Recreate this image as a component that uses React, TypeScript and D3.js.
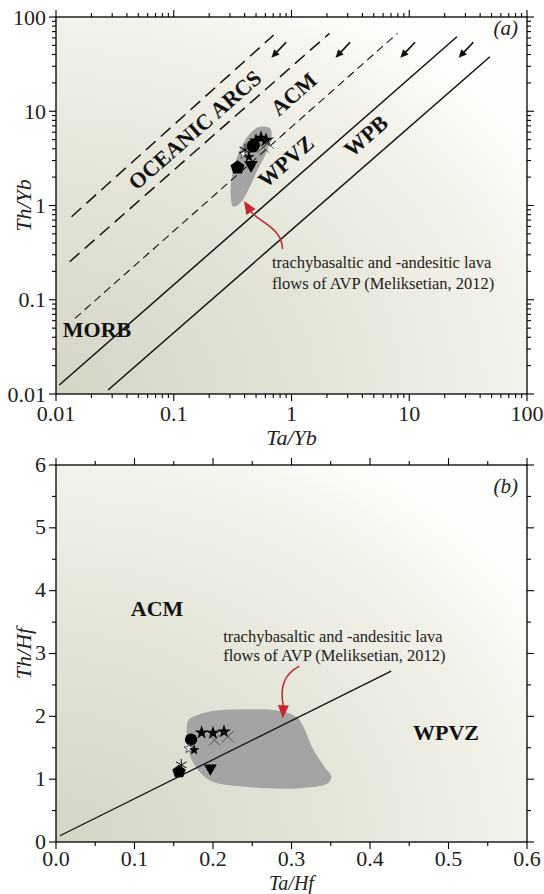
import React from 'react';
import * as d3 from 'd3';

const FONT = "'Liberation Serif', 'Times New Roman', Times, serif";
const W = 544;
const H = 894;

// ---- Panel (a): Th/Yb vs Ta/Yb discriminant boundaries (log–log) ----
const boundaryKind = ['dashLong', 'dashLong', 'dashShort', 'solid', 'solid'];
const boundaryStartTaYb = [0.01355, 0.01307, 0.0145, 0.01067, 0.0277];
const boundaryStartThYb = [0.76, 0.2533, 0.0635, 0.01246, 0.01103];
const boundaryEndTaYb = [0.706, 2.1, 7.94, 25.4, 48.4];
const boundaryEndThYb = [64.4, 67.1, 67.1, 61.8, 37.9];

// small direction arrows near the top of the boundaries
const arrowTailTaYb = [0.9, 3.15, 11.2, 35];
const arrowTailThYb = 54;
const arrowHeadThYb = 37;
const arrowHeadRatio = 0.75;

// field names in (a)
const fieldNamesA = ['OCEANIC ARCS', 'ACM', 'WPVZ', 'WPB'];
const fieldNameTaYb = [0.1515, 1.046, 0.898, 4.29];
const fieldNameThYb = [6.32, 15.2, 2.92, 5.46];
const morbTaYb = 0.01142;
const morbThYb = 0.0405;

// AVP lava-flow field, panel (a)
const fieldATaYb = [0.54, 0.657, 0.679, 0.616, 0.506, 0.43, 0.365, 0.32, 0.3045, 0.31, 0.3425, 0.3897, 0.459];
const fieldAThYb = [6.85, 6.59, 5.6, 3.72, 2.28, 1.461, 1.055, 0.971, 1.292, 1.943, 3.17, 4.57, 6.07];

// AVP lava-flow field, panel (b)
const fieldBTaHf = [0.1685, 0.1664, 0.173, 0.195, 0.2395, 0.3107, 0.3462, 0.3507, 0.3418, 0.326, 0.3152, 0.3062, 0.284, 0.2395, 0.195, 0.175];
const fieldBThHf = [1.942, 1.73, 1.305, 0.987, 0.88, 0.855, 0.934, 1.039, 1.198, 1.517, 1.835, 1.994, 2.09, 2.112, 2.074, 1.994];

// ACM / WPVZ divide, panel (b)
const divideTaHf = [0.005, 0.427];
const divideThHf = [0.1, 2.72];

// samples
const sampleSymbol = ['star', 'star', 'star', 'cross', 'cross', 'circle', 'openStar', 'smallStar', 'asterisk', 'pentagon', 'triangle'];
const sampleTaYb = [0.4995, 0.551, 0.607, 0.575, 0.631, 0.471, 0.395, 0.4355, 0.403, 0.348, 0.453];
const sampleThYb = [4.84, 5.2, 4.95, 4.18, 4.6, 4.27, 3.52, 3.27, 3.88, 2.53, 2.69];
const sampleTaHf = [0.1855, 0.2, 0.214, 0.202, 0.219, 0.172, 0.1694, 0.176, 0.1596, 0.1567, 0.1966];
const sampleThHf = [1.74, 1.735, 1.756, 1.623, 1.679, 1.631, 1.488, 1.464, 1.226, 1.119, 1.173];

// tick labels
const logTickLabels = ['0.01', '0.1', '1', '10', '100'];
const linXTickLabels = ['0.0', '0.1', '0.2', '0.3', '0.4', '0.5', '0.6'];
const linYTickLabels = ['0', '1', '2', '3', '4', '5', '6'];

// annotation anchors
const noteA = { textTaYb: 0.683, textThYb: 0.2146, tipTaYb: 0.395, tipThYb: 1.116, tailTaYb: 0.839, tailThYb: 0.3455 };
const noteB = { textTaHf: 0.213, textThHf: 3.188, tipTaHf: 0.289, tipThHf: 1.969, tailTaHf: 0.31, tailThHf: 2.8 };
const noteLines = ['trachybasaltic and -andesitic lava', 'flows of AVP (Meliksetian, 2012)'];

const RED = '#c1272d';
const FIELD = '#a4a4a4';

const frameA = { x0: 56, x1: 527, y0: 17, y1: 394 };
const frameB = { x0: 56, x1: 527, y0: 465, y1: 842 };

function pentagonPath(r: number) {
  const pts = d3.range(5).map((i) => {
    const a = -Math.PI / 2 + (i * 2 * Math.PI) / 5;
    return [r * Math.cos(a), r * Math.sin(a)];
  });
  return 'M' + pts.map((p) => p.join(',')).join('L') + 'Z';
}

function Marker({ kind, x, y, k = 1 }: { kind: string; x: number; y: number; k?: number }) {
  const t = `translate(${x},${y})`;
  switch (kind) {
    case 'star':
      return <path d={d3.symbol(d3.symbolStar, 60 * k)()!} transform={t} fill="#000" />;
    case 'smallStar':
      return <path d={d3.symbol(d3.symbolStar, 36 * k)()!} transform={t} fill="#000" />;
    case 'openStar':
      return <path d={d3.symbol(d3.symbolStar, 30 * k)()!} transform={t} fill="#fff" stroke="#000" strokeWidth={0.6} />;
    case 'circle':
      return <path d={d3.symbol(d3.symbolCircle, 118 * k)()!} transform={t} fill="#000" />;
    case 'triangle':
      return <path d={d3.symbol(d3.symbolTriangle, 72 * k)()!} transform={`${t} rotate(180)`} fill="#000" />;
    case 'pentagon':
      return <path d={pentagonPath(7 * Math.sqrt(k))} transform={t} fill="#000" />;
    case 'cross': {
      const s = 5.5 * Math.sqrt(k);
      return (
        <g transform={t} stroke="#444" strokeWidth={0.9}>
          <line x1={-s} y1={-s} x2={s} y2={s} />
          <line x1={-s} y1={s} x2={s} y2={-s} />
        </g>
      );
    }
    case 'asterisk': {
      const s = 6 * Math.sqrt(k);
      return (
        <g transform={t} stroke="#000" strokeWidth={0.9}>
          {[0, 60, 120].map((a) => (
            <line key={a} x1={0} y1={-s} x2={0} y2={s} transform={`rotate(${a})`} />
          ))}
        </g>
      );
    }
    default:
      return null;
  }
}

function arrowHead(tipX: number, tipY: number, fromX: number, fromY: number, len: number, half: number) {
  const dx = tipX - fromX;
  const dy = tipY - fromY;
  const d = Math.hypot(dx, dy) || 1;
  const ux = dx / d;
  const uy = dy / d;
  const bx = tipX - ux * len;
  const by = tipY - uy * len;
  return `M${tipX},${tipY}L${bx - uy * half},${by + ux * half}L${bx + uy * half},${by - ux * half}Z`;
}

function Frame({ f, id }: { f: typeof frameA; id: string }) {
  return <rect x={f.x0} y={f.y0} width={f.x1 - f.x0} height={f.y1 - f.y0} fill={`url(#${id})`} />;
}

function TickMarks({
  f,
  xs,
  ys,
  xMajor,
  yMajor,
}: {
  f: typeof frameA;
  xs: number[];
  ys: number[];
  xMajor: boolean[];
  yMajor: boolean[];
}) {
  const major = 7;
  const minor = 4;
  return (
    <g stroke="#000" strokeWidth={1.1}>
      {xs.map((x, i) => {
        const L = xMajor[i] ? major : minor;
        return (
          <g key={'x' + i}>
            <line x1={x} x2={x} y1={f.y1} y2={f.y1 + L} />
            <line x1={x} x2={x} y1={f.y0} y2={f.y0 - L} />
          </g>
        );
      })}
      {ys.map((y, i) => {
        const L = yMajor[i] ? major : minor;
        return (
          <g key={'y' + i}>
            <line x1={f.x0} x2={f.x0 - L} y1={y} y2={y} />
            <line x1={f.x1} x2={f.x1 + L} y1={y} y2={y} />
          </g>
        );
      })}
    </g>
  );
}

export default function App() {
  const xA = d3.scaleLog().domain([0.01, 100]).range([frameA.x0, frameA.x1]);
  const yA = d3.scaleLog().domain([0.01, 100]).range([frameA.y1, frameA.y0]);
  const xB = d3.scaleLinear().domain([0, 0.6]).range([frameB.x0, frameB.x1]);
  const yB = d3.scaleLinear().domain([0, 6]).range([frameB.y1, frameB.y0]);

  // log ticks: 1..9 within each decade
  const decades = [0.01, 0.1, 1, 10];
  const logVals: number[] = [];
  const logMajor: boolean[] = [];
  decades.forEach((d) => {
    d3.range(1, 10).forEach((m) => {
      logVals.push(d * m);
      logMajor.push(m === 1);
    });
  });
  logVals.push(100);
  logMajor.push(true);
  const logMajorVals = [0.01, 0.1, 1, 10, 100];

  const linXVals = d3.range(0, 13).map((i) => i * 0.05);
  const linXMajor = linXVals.map((_, i) => i % 2 === 0);
  const linYVals = d3.range(0, 13).map((i) => i * 0.5);
  const linYMajor = linYVals.map((_, i) => i % 2 === 0);

  const lineA = d3
    .line<[number, number]>()
    .x((d) => xA(d[0]))
    .y((d) => yA(d[1]));
  const fieldAPath = d3
    .line<[number, number]>()
    .x((d) => xA(d[0]))
    .y((d) => yA(d[1]))
    .curve(d3.curveCatmullRomClosed.alpha(0.5))(fieldATaYb.map((v, i) => [v, fieldAThYb[i]]));
  const fieldBPath = d3
    .line<[number, number]>()
    .x((d) => xB(d[0]))
    .y((d) => yB(d[1]))
    .curve(d3.curveCatmullRomClosed.alpha(0.5))(fieldBTaHf.map((v, i) => [v, fieldBThHf[i]]));

  // boundary orientation for rotated field names
  const bx0 = xA(boundaryStartTaYb[3]);
  const by0 = yA(boundaryStartThYb[3]);
  const bx1 = xA(boundaryEndTaYb[3]);
  const by1 = yA(boundaryEndThYb[3]);
  const angle = (Math.atan2(by1 - by0, bx1 - bx0) * 180) / Math.PI;

  const dashFor = (k: string) => (k === 'dashLong' ? '13 7' : k === 'dashShort' ? '8 5' : undefined);
  const widthFor = (k: string) => (k === 'dashShort' ? 1.1 : 1.5);

  // annotation curves
  const aTip = [xA(noteA.tipTaYb), yA(noteA.tipThYb)];
  const aTail = [xA(noteA.tailTaYb), yA(noteA.tailThYb)];
  const aBase = [aTip[0] + 7, aTip[1] + 11];
  const aCurve = `M${aTail[0]},${aTail[1]}C${aTail[0] - 0.5},${aTail[1] - 20} ${aBase[0] + 12},${aBase[1] + 12} ${aBase[0]},${aBase[1]}`;
  const bTip = [xB(noteB.tipTaHf), yB(noteB.tipThHf)];
  const bTail = [xB(noteB.tailTaHf), yB(noteB.tailThHf)];
  const bBase = [bTip[0] + 0.5, bTip[1] - 12];
  const bCurve = `M${bTail[0]},${bTail[1]}C${bTail[0] - 15},${bTail[1] + 8} ${bBase[0] - 4},${bBase[1] - 20} ${bBase[0]},${bBase[1]}`;

  const boldLabel = { fontFamily: FONT, fontWeight: 700, fontSize: 22, fill: '#111' } as const;
  const plain = { fontFamily: FONT, fill: '#222' } as const;

  return (
    <svg
      width={W}
      height={H}
      viewBox={`0 0 ${W} ${H}`}
      style={{ position: 'absolute', left: 0, top: 0, background: '#fff' }}
      fontFamily={FONT}
    >
      <defs>
        {['bgA', 'bgB'].map((id) => (
          <radialGradient key={id} id={id} cx="0" cy="1" r="1.2" fx="0" fy="1">
            <stop offset="0" stopColor="#d4d5c5" />
            <stop offset="0.45" stopColor="#e3e4d7" />
            <stop offset="0.8" stopColor="#f1f1e9" />
            <stop offset="1" stopColor="#fdfdfb" />
          </radialGradient>
        ))}
        <clipPath id="clipA">
          <rect x={frameA.x0} y={frameA.y0} width={frameA.x1 - frameA.x0} height={frameA.y1 - frameA.y0} />
        </clipPath>
      </defs>

      {/* ---------- panel (a) ---------- */}
      <Frame f={frameA} id="bgA" />
      <path d={fieldAPath!} fill={FIELD} />
      <g clipPath="url(#clipA)">
        {boundaryKind.map((k, i) => (
          <path
            key={i}
            d={lineA([
              [boundaryStartTaYb[i], boundaryStartThYb[i]],
              [boundaryEndTaYb[i], boundaryEndThYb[i]],
            ])!}
            fill="none"
            stroke="#111"
            strokeWidth={widthFor(k)}
            strokeDasharray={dashFor(k)}
          />
        ))}
      </g>
      {arrowTailTaYb.map((tx, i) => {
        const x1 = xA(tx);
        const y1 = yA(arrowTailThYb);
        const x2 = xA(tx * arrowHeadRatio);
        const y2 = yA(arrowHeadThYb);
        return (
          <g key={i}>
            <line x1={x1} y1={y1} x2={x2 + (x1 - x2) * 0.3} y2={y2 + (y1 - y2) * 0.3} stroke="#111" strokeWidth={1.7} />
            <path d={arrowHead(x2, y2, x1, y1, 8, 3.8)} fill="#111" />
          </g>
        );
      })}
      {sampleSymbol.map((s, i) => (
        <Marker key={i} kind={s} x={xA(sampleTaYb[i])} y={yA(sampleThYb[i])} k={1.1} />
      ))}
      {fieldNamesA.map((name, i) => (
        <text
          key={name}
          {...boldLabel}
          textAnchor="middle"
          dy="0.33em"
          transform={`translate(${xA(fieldNameTaYb[i])},${yA(fieldNameThYb[i])}) rotate(${angle})`}
        >
          {name}
        </text>
      ))}
      <text {...boldLabel} x={xA(morbTaYb)} y={yA(morbThYb)}>
        MORB
      </text>
      <path d={aCurve} fill="none" stroke={RED} strokeWidth={1.5} />
      <path d={arrowHead(aTip[0], aTip[1], aBase[0], aBase[1], 13, 5.5)} fill={RED} />
      <text {...plain} x={xA(noteA.textTaYb)} y={yA(noteA.textThYb)} fontSize={16.5}>
        {noteLines.map((t, i) => (
          <tspan key={i} x={xA(noteA.textTaYb)} dy={i === 0 ? 0 : 21}>
            {t}
          </tspan>
        ))}
      </text>
      <text {...plain} x={frameA.x1 - 9} y={frameA.y0 + 18} fontSize={21} fontStyle="italic" textAnchor="end">
        (a)
      </text>
      <rect
        x={frameA.x0}
        y={frameA.y0}
        width={frameA.x1 - frameA.x0}
        height={frameA.y1 - frameA.y0}
        fill="none"
        stroke="#000"
        strokeWidth={1.3}
      />
      <TickMarks f={frameA} xs={logVals.map((v) => xA(v))} ys={logVals.map((v) => yA(v))} xMajor={logMajor} yMajor={logMajor} />
      {logMajorVals.map((v, i) => (
        <text {...plain} key={'xa' + i} x={xA(v)} y={frameA.y1 + 27} fontSize={22} textAnchor="middle">
          {logTickLabels[i]}
        </text>
      ))}
      {logMajorVals.map((v, i) => (
        <text {...plain} key={'ya' + i} x={frameA.x0 - 10} y={yA(v)} dy="0.35em" fontSize={22} textAnchor="end">
          {logTickLabels[i]}
        </text>
      ))}
      <text {...plain} x={(frameA.x0 + frameA.x1) / 2} y={frameA.y1 + 51} fontSize={22} fontStyle="italic" textAnchor="middle">
        Ta/Yb
      </text>
      <text
        {...plain}
        transform={`translate(31,${(frameA.y0 + frameA.y1) / 2}) rotate(-90)`}
        fontSize={22}
        fontStyle="italic"
        textAnchor="middle"
      >
        Th/Yb
      </text>

      {/* ---------- panel (b) ---------- */}
      <Frame f={frameB} id="bgB" />
      <path d={fieldBPath!} fill={FIELD} />
      <line
        x1={xB(divideTaHf[0])}
        y1={yB(divideThHf[0])}
        x2={xB(divideTaHf[1])}
        y2={yB(divideThHf[1])}
        stroke="#111"
        strokeWidth={1.3}
      />
      {sampleSymbol.map((s, i) => (
        <Marker key={i} kind={s} x={xB(sampleTaHf[i])} y={yB(sampleThHf[i])} />
      ))}
      <text {...boldLabel} x={xB(0.0953)} y={yB(3.597)}>
        ACM
      </text>
      <text {...boldLabel} x={xB(0.4548)} y={yB(1.623)}>
        WPVZ
      </text>
      <path d={bCurve} fill="none" stroke={RED} strokeWidth={1.5} />
      <path d={arrowHead(bTip[0], bTip[1], bBase[0], bBase[1], 13, 5.5)} fill={RED} />
      <text {...plain} x={xB(noteB.textTaHf)} y={yB(noteB.textThHf)} fontSize={16.5}>
        {noteLines.map((t, i) => (
          <tspan key={i} x={xB(noteB.textTaHf)} dy={i === 0 ? 0 : 19}>
            {t}
          </tspan>
        ))}
      </text>
      <text {...plain} x={frameB.x1 - 9} y={frameB.y0 + 28} fontSize={21} fontStyle="italic" textAnchor="end">
        (b)
      </text>
      <rect
        x={frameB.x0}
        y={frameB.y0}
        width={frameB.x1 - frameB.x0}
        height={frameB.y1 - frameB.y0}
        fill="none"
        stroke="#000"
        strokeWidth={1.3}
      />
      <TickMarks f={frameB} xs={linXVals.map((v) => xB(v))} ys={linYVals.map((v) => yB(v))} xMajor={linXMajor} yMajor={linYMajor} />
      {linXTickLabels.map((t, i) => (
        <text {...plain} key={'xb' + i} x={xB(i * 0.1)} y={frameB.y1 + 24} fontSize={22} textAnchor="middle">
          {t}
        </text>
      ))}
      {linYTickLabels.map((t, i) => (
        <text {...plain} key={'yb' + i} x={frameB.x0 - 10} y={yB(i)} dy="0.3em" fontSize={22} textAnchor="end">
          {t}
        </text>
      ))}
      <text {...plain} x={(frameB.x0 + frameB.x1) / 2} y={frameB.y1 + 48} fontSize={20} fontStyle="italic" textAnchor="middle">
        Ta/Hf
      </text>
      <text
        {...plain}
        transform={`translate(31,${(frameB.y0 + frameB.y1) / 2}) rotate(-90)`}
        fontSize={22}
        fontStyle="italic"
        textAnchor="middle"
      >
        Th/Hf
      </text>
    </svg>
  );
}
